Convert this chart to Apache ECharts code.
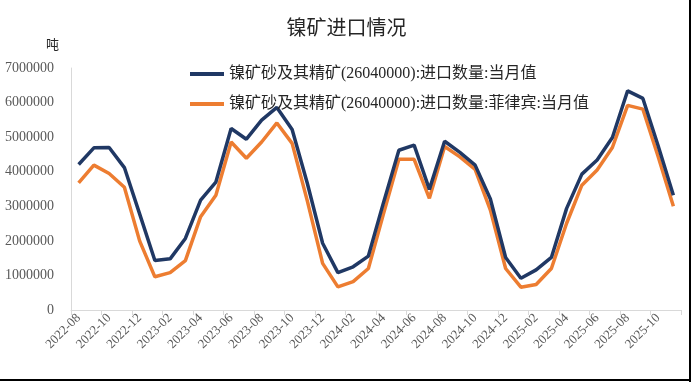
<!DOCTYPE html>
<html>
<head>
<meta charset="utf-8">
<script src="https://cdn.jsdelivr.net/npm/echarts@6/dist/echarts.min.js"></script>
<style>
html,body{margin:0;padding:0;background:#fff;}
#c{width:693px;height:382px;}
</style>
</head>
<body>
<div id="c"></div>
<script>
var categories = ["2022-08","2022-09","2022-10","2022-11","2022-12","2023-01","2023-02","2023-03","2023-04","2023-05","2023-06","2023-07","2023-08","2023-09","2023-10","2023-11","2023-12","2024-01","2024-02","2024-03","2024-04","2024-05","2024-06","2024-07","2024-08","2024-09","2024-10","2024-11","2024-12","2025-01","2025-02","2025-03","2025-04","2025-05","2025-06","2025-07","2025-08","2025-09","2025-10","2025-11"];
var totalName = "镍矿砂及其精矿(26040000):进口数量:当月值";
var philName = "镍矿砂及其精矿(26040000):进口数量:菲律宾:当月值";
var totalValues = [4210000,4690000,4700000,4120000,2780000,1430000,1480000,2070000,3180000,3700000,5250000,4940000,5490000,5860000,5220000,3660000,1930000,1080000,1250000,1560000,3120000,4620000,4770000,3490000,4880000,4560000,4190000,3210000,1520000,920000,1160000,1520000,2940000,3930000,4340000,4990000,6340000,6120000,4750000,3320000];
var philValues = [3680000,4190000,3950000,3550000,2000000,960000,1080000,1430000,2700000,3320000,4860000,4390000,4860000,5410000,4820000,3150000,1350000,670000,820000,1200000,2800000,4360000,4360000,3230000,4730000,4430000,4070000,2890000,1200000,660000,740000,1200000,2510000,3610000,4050000,4700000,5920000,5810000,4440000,3000000];
var yTicks = {min:0, max:7000000, interval:1000000};

var chart = echarts.init(document.getElementById('c'), null, {renderer:'canvas'});
var serif = "'Liberation Serif','Noto Sans CJK SC',serif";
chart.setOption({
  animation:false,
  backgroundColor:'#fff',
  title:{
    text:'镍矿进口情况', left:'center', top:12,
    textStyle:{fontFamily:"'Noto Sans CJK SC',sans-serif", fontSize:20, fontWeight:'normal', color:'#262626'}
  },
  legend:{
    orient:'vertical', left:185, top:61, itemGap:14, itemWidth:34, itemHeight:16,
    icon:'path://M0,6 L34,6 L34,10 L0,10 Z',
    textStyle:{fontFamily:serif, fontSize:16, color:'#262626'},
    data:[totalName, philName]
  },
  grid:{left:71, right:12, top:68, bottom:72, containLabel:false},
  xAxis:{
    type:'category', data:categories, boundaryGap:true,
    axisLine:{lineStyle:{color:'#d9d9d9', width:1}},
    axisTick:{show:true, interval:1, length:5, lineStyle:{color:'#d9d9d9'}},
    axisLabel:{interval:1, rotate:45, fontFamily:serif, fontSize:13, color:'#595959', margin:6}
  },
  yAxis:{
    type:'value', min:yTicks.min, max:yTicks.max, interval:yTicks.interval,
    axisLine:{show:true, lineStyle:{color:'#d9d9d9'}},
    axisTick:{show:false},
    splitLine:{show:false},
    axisLabel:{fontFamily:serif, fontSize:14, color:'#595959', margin:17,
      formatter:function(v){return String(v);}}
  },
  graphic:[
    {type:'text', left:46, top:38, style:{text:'吨', fontFamily:"'Noto Sans CJK SC',sans-serif", fontSize:13, fill:'#262626'}},
    {type:'rect', shape:{x:689, y:0, width:2, height:382}, style:{fill:'#000'}},
    {type:'rect', shape:{x:0, y:379, width:691, height:2}, style:{fill:'#000'}}
  ],
  series:[
    {name:totalName, type:'line', data:totalValues, symbol:'none', smooth:false,
     lineStyle:{color:'#203864', width:3.5}, itemStyle:{color:'#203864'}, z:3},
    {name:philName, type:'line', data:philValues, symbol:'none', smooth:false,
     lineStyle:{color:'#ED7D31', width:3.5}, itemStyle:{color:'#ED7D31'}, z:2}
  ]
});
</script>
</body>
</html>
